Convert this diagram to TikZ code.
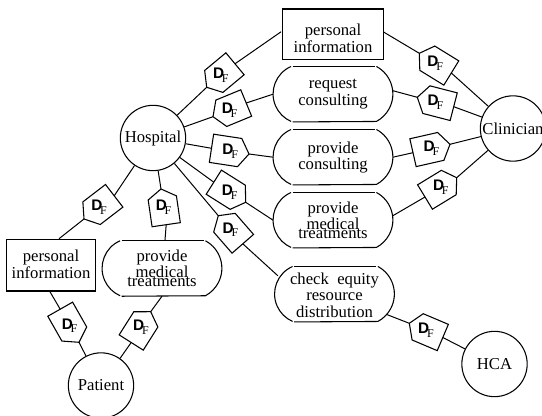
\documentclass[tikz,border=0pt]{standalone}
\usepackage{fontspec}
\setmainfont{Liberation Serif}
\newfontfamily\dfsans{Liberation Sans}
\usetikzlibrary{calc}
\tikzset{
  conn/.style={line width=0.75pt},
  outline/.style={line width=0.8pt},
  roundcirc/.style={circle,draw,line width=0.8pt,minimum size=49pt,inner sep=0pt,font=\fontsize{12.5}{15}\selectfont},
  infobox/.style={rectangle,draw,line width=0.9pt,inner sep=0pt,align=center,font=\fontsize{12.5}{12.2}\selectfont},
  procbox/.style={rectangle,inner sep=0pt,minimum width=89.5pt,minimum height=41.2pt,align=center,font=\fontsize{12.5}{12.2}\selectfont},
  dflabel/.style={inner sep=0pt}
}
% \pent{name}{apex}{base midpoint}: five-sided data-flow token
\newcommand{\pent}[3]{%
  \coordinate (#1-a) at (#2);
  \coordinate (#1-b) at (#3);
  \coordinate (#1-s) at ($(#1-a)!0.25!(#1-b)$);
  \draw[outline] (#1-a) -- ($(#1-s)!10.7pt!90:(#1-b)$) -- ($(#1-b)!10.7pt!-90:(#1-a)$)
     -- ($(#1-b)!10.7pt!90:(#1-a)$) -- ($(#1-s)!10.7pt!-90:(#1-b)$) -- cycle;
  \node[dflabel] (#1) at ($(#1-a)!0.5!(#1-b)$) {\raisebox{1pt}{\fontsize{11.5}{12}\dfsans\bfseries D}\kern-1.6pt\raisebox{-1.9pt}{\fontsize{9}{10}\selectfont F}};
}
% \stad{name}: outline of a rounded process box round node name
\newcommand{\stad}[1]{%
  \draw[outline] ([xshift=13.5pt]#1.north west) arc[start angle=113.6,end angle=246.4,radius=22.5pt];
  \draw[outline] ([xshift=14.6pt]#1.north west) -- ([xshift=-13.5pt]#1.north east);
  \draw[outline] ([xshift=-12.4pt]#1.north east) arc[start angle=61.8,end angle=-61.8,radius=23.4pt] -- ([xshift=14.6pt]#1.south west);
}
\begin{document}
\begin{tikzpicture}[x=0.75pt,y=-0.75pt]
\useasboundingbox (0,0) rectangle (542,416);
\clip (0,0) rectangle (542,416);
% actors
\node[roundcirc] (hosp) at (153,138) {Hospital};
\node[roundcirc] (clin) at (513,128.5) {Clinician};
\node[roundcirc] (pat) at (101,385.5) {Patient};
\node[roundcirc] (hca) at (494.5,364) {HCA};
% data stores
\node[infobox,minimum width=76pt,minimum height=38pt] (info1) at (333,34.3) {\rule{0pt}{14.5pt}personal\\information};
\node[infobox,minimum width=66.5pt,minimum height=38.8pt] (info2) at (51,265.2) {personal\\information\rule[-1.6pt]{0pt}{1pt}};
% processes
\node[procbox] (req) at (333,94.2) {request\\consulting};
\node[procbox] (cons) at (333,157.2) {provide\\consulting};
\node[procbox] (med) at (333,220.2) {provide\\medical\\[-5.2pt]treatments};
\node[procbox] (chk) at (334.5,294.2) {\rule{0pt}{10pt}check\hspace{0.5em}equity\\resource\\distribution};
\node[procbox] (medl) at (162,268.5) {provide\\medical\\[-5.2pt]treatments};
\stad{req}\stad{cons}\stad{med}\stad{chk}\stad{medl}
% tokens
\pent{p1}{206.7,87.3}{235,63.8}
\pent{p2}{213,116.7}{246.2,103}
\pent{p3}{249,154}{211.5,148.3}
\pent{p4}{245.7,202.3}{213.8,182.2}
\pent{p5}{218.3,215.7}{242.8,243.8}
\pent{p6}{409.3,323.3}{442.8,337.5}
\pent{p7}{456.7,177.7}{425,197}
\pent{p8}{450,144.3}{413,152.7}
\pent{p9}{417.3,97.3}{453.7,106.7}
\pent{p10}{419.3,53.3}{451.3,73}
\pent{p11}{84,219}{114.2,195.8}
\pent{p12}{161,189}{166.2,224.7}
\pent{p13}{79,342.3}{60.2,309.2}
\pent{p14}{150.7,311.7}{131.2,342.5}
% connectors
\draw[conn] (hosp) -- (p1-a);
\draw[conn] (p1-b) -- ([yshift=1.9pt,xshift=-0.5pt]info1.west);
\draw[conn] (hosp) -- (p2-a);
\draw[conn] (p2-b) -- (req.west);
\draw[conn] (hosp) -- (p3-b);
\draw[conn] (p3-a) -- (cons.west);
\draw[conn] (hosp) -- (p4-b);
\draw[conn] (p4-a) -- (med.west);
\draw[conn] (hosp) -- (p5-a);
\draw[conn] (p5-b) -- ([xshift=2.5pt,yshift=-7pt]chk.north west);
\draw[conn] (p6-a) -- ([xshift=-5.6pt,yshift=5.5pt]chk.south east);
\draw[conn] (p6-b) -- (hca);
\draw[conn] (p7-a) -- (clin);
\draw[conn] (p7-b) -- ([yshift=3.4pt]med.east);
\draw[conn] (p8-a) -- (clin);
\draw[conn] (p8-b) -- (cons.east);
\draw[conn] (p9-b) -- (clin);
\draw[conn] (p9-a) -- ([yshift=2.6pt]req.east);
\draw[conn] (p10-b) -- (clin);
\draw[conn] (p10-a) -- ([yshift=1.7pt,xshift=-0.5pt]info1.east);
\draw[conn] (hosp) -- (p11-b);
\draw[conn] (p11-a) -- ([xshift=6pt]info2.north);
\draw[conn] (hosp) -- (p12-a);
\draw[conn] (p12-b) -- ([xshift=2.2pt]medl.north);
\draw[conn] (p13-b) -- ([xshift=-0.8pt]info2.south);
\draw[conn] (p13-a) -- (pat);
\draw[conn] (p14-a) -- (medl.south);
\draw[conn] (p14-b) -- (pat);
\end{tikzpicture}
\end{document}
